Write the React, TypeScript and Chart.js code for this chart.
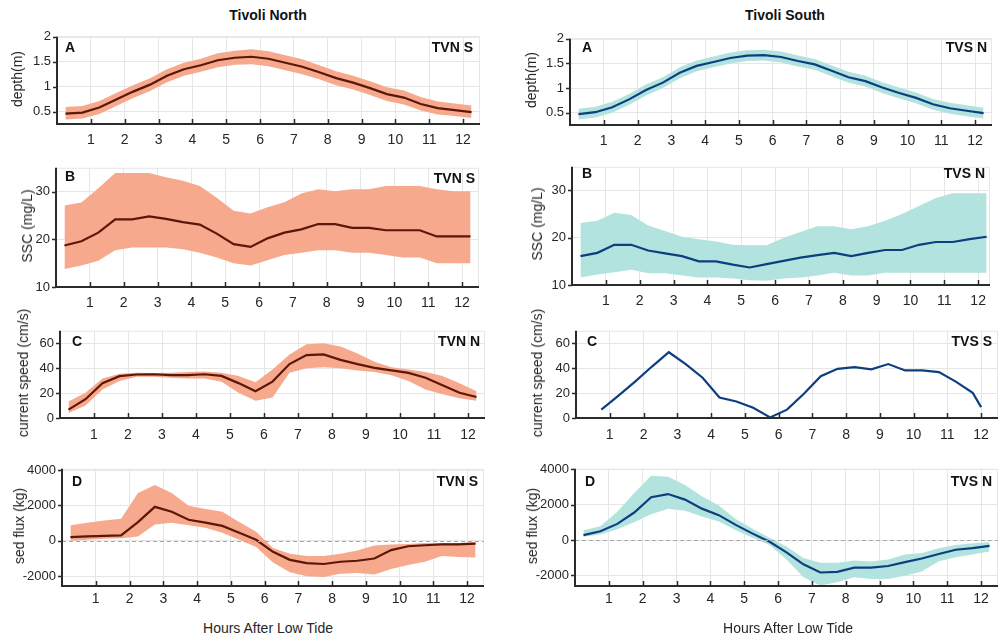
import React, { useEffect, useRef } from "react";
import { Chart, registerables } from "chart.js";
Chart.register(...registerables);

const FONT = "'Liberation Sans', Arial, Helvetica, sans-serif";
Chart.defaults.font.family = FONT;

// ---------- data ----------
const hours = [0.25, 0.75, 1.25, 1.75, 2.25, 2.75, 3.25, 3.75, 4.25, 4.75, 5.25, 5.75, 6.25, 6.75, 7.25, 7.75, 8.25, 8.75, 9.25, 9.75, 10.25, 10.75, 11.25, 11.75, 12.25];
const hoursSpeedS = [0.75, 1.25, 1.75, 2.25, 2.75, 3.25, 3.75, 4.25, 4.75, 5.25, 5.75, 6.25, 6.75, 7.25, 7.75, 8.25, 8.75, 9.25, 9.75, 10.25, 10.75, 11.25, 11.75, 12.0];
const hourTicks = [1, 2, 3, 4, 5, 6, 7, 8, 9, 10, 11, 12];

const depthTicks = [0.5, 1, 1.5, 2];
const sscTicks = [10, 20, 30];
const speedTicks = [0, 20, 40, 60];
const fluxTicks = [-2000, 0, 2000, 4000];

// Tivoli North
const depthN = [0.46, 0.48, 0.58, 0.74, 0.90, 1.04, 1.22, 1.35, 1.43, 1.53, 1.58, 1.60, 1.56, 1.48, 1.40, 1.29, 1.17, 1.08, 0.97, 0.85, 0.78, 0.65, 0.57, 0.53, 0.49];
const depthNHi = [0.59, 0.61, 0.71, 0.87, 1.03, 1.17, 1.35, 1.48, 1.56, 1.67, 1.72, 1.75, 1.71, 1.63, 1.55, 1.43, 1.31, 1.22, 1.11, 0.99, 0.92, 0.79, 0.70, 0.66, 0.62];
const depthNLo = [0.34, 0.36, 0.45, 0.61, 0.77, 0.91, 1.09, 1.22, 1.30, 1.39, 1.44, 1.45, 1.41, 1.33, 1.25, 1.15, 1.03, 0.94, 0.83, 0.71, 0.64, 0.52, 0.44, 0.41, 0.37];

const sscN = [18.7, 19.6, 21.4, 24.2, 24.2, 24.8, 24.3, 23.6, 23.1, 21.2, 19.0, 18.4, 20.2, 21.4, 22.1, 23.2, 23.2, 22.4, 22.4, 21.9, 21.9, 21.9, 20.6, 20.6, 20.6];
const sscNHi = [27.1, 27.7, 30.7, 33.9, 33.9, 33.9, 33.0, 32.3, 31.2, 28.7, 26.0, 25.4, 26.7, 27.8, 29.6, 30.5, 30.1, 30.5, 30.5, 31.2, 31.2, 31.2, 30.5, 30.1, 30.1];
const sscNLo = [13.8, 14.5, 15.5, 17.7, 18.3, 18.3, 18.3, 17.9, 17.2, 16.2, 15.0, 14.5, 15.6, 16.7, 17.2, 17.7, 17.7, 17.2, 17.2, 16.7, 16.2, 16.2, 15.0, 15.0, 15.0];

const speedN = [6.7, 15.1, 28.0, 33.6, 34.9, 35.1, 34.4, 34.4, 35.1, 33.8, 28.0, 21.5, 29.2, 43.3, 50.5, 51.0, 46.7, 43.3, 40.3, 38.2, 36.2, 32.3, 26.2, 20.3, 16.9];
const speedNHi = [13.3, 20.3, 31.8, 35.6, 36.4, 36.2, 36.4, 36.9, 37.4, 36.4, 33.8, 28.7, 39.0, 51.0, 59.2, 60.0, 57.4, 51.8, 45.1, 40.8, 39.0, 36.9, 33.8, 27.9, 21.5];
const speedNLo = [4.1, 10.0, 22.8, 29.7, 33.1, 33.1, 32.3, 31.8, 31.8, 29.2, 20.3, 13.8, 16.4, 36.4, 40.0, 40.8, 40.0, 38.2, 36.9, 34.4, 29.7, 22.8, 19.0, 15.9, 13.8];

const fluxN = [200, 250, 270, 300, 1058, 1918, 1644, 1186, 1022, 840, 457, 55, -626, -1081, -1261, -1315, -1188, -1133, -1006, -531, -311, -256, -201, -201, -164];
const fluxNHi = [877, 1022, 1150, 1241, 2704, 3159, 2704, 1973, 1790, 1644, 1058, 511, -408, -733, -861, -861, -733, -548, -273, -219, -183, -128, -128, -128, -73];
const fluxNLo = [0, 55, 110, 146, 237, 912, 1022, 877, 731, 457, 55, -351, -1225, -1776, -2012, -2048, -1864, -1830, -1904, -1593, -1370, -1188, -861, -916, -952];

// Tivoli South
const depthS = [0.47, 0.51, 0.61, 0.77, 0.96, 1.11, 1.31, 1.45, 1.53, 1.61, 1.66, 1.67, 1.63, 1.55, 1.48, 1.35, 1.22, 1.14, 1.01, 0.90, 0.80, 0.67, 0.59, 0.54, 0.49];
const depthSHi = [0.58, 0.62, 0.72, 0.88, 1.07, 1.22, 1.42, 1.56, 1.64, 1.72, 1.77, 1.78, 1.74, 1.66, 1.59, 1.46, 1.33, 1.25, 1.12, 1.01, 0.91, 0.78, 0.70, 0.65, 0.60];
const depthSLo = [0.36, 0.40, 0.50, 0.66, 0.85, 1.00, 1.20, 1.34, 1.42, 1.50, 1.55, 1.56, 1.52, 1.44, 1.37, 1.24, 1.11, 1.03, 0.90, 0.79, 0.69, 0.56, 0.48, 0.43, 0.38];

const sscS = [16.1, 16.8, 18.5, 18.5, 17.3, 16.7, 16.1, 15.0, 15.0, 14.3, 13.7, 14.4, 15.1, 15.8, 16.3, 16.8, 16.1, 16.8, 17.4, 17.4, 18.5, 19.1, 19.1, 19.7, 20.2];
const sscSHi = [23.1, 23.6, 25.3, 24.8, 22.6, 21.4, 20.2, 19.7, 19.2, 18.5, 18.4, 18.4, 20.0, 21.2, 22.4, 22.4, 21.8, 22.4, 23.6, 25.0, 26.7, 28.4, 29.4, 29.4, 29.4];
const sscSLo = [11.6, 12.2, 12.7, 13.2, 12.5, 12.5, 12.0, 11.6, 11.6, 11.4, 11.0, 10.9, 11.4, 11.6, 12.0, 12.6, 12.0, 12.0, 12.6, 12.6, 12.6, 12.6, 12.6, 12.6, 12.6];

const speedS = [6.7, 17.7, 29.2, 41.3, 52.8, 43.3, 32.3, 16.4, 13.3, 8.2, 0.5, 6.7, 19.5, 33.6, 39.5, 40.8, 39.0, 43.3, 38.2, 38.2, 36.9, 29.2, 20.3, 8.7];

const fluxS = [275, 495, 913, 1557, 2420, 2600, 2288, 1777, 1408, 858, 363, -94, -698, -1375, -1837, -1798, -1562, -1562, -1469, -1249, -1045, -792, -550, -462, -330];
const fluxSHi = [550, 787, 1595, 2657, 3630, 3575, 3113, 2475, 1958, 1188, 638, 127, -367, -1012, -1287, -1287, -1155, -1210, -1100, -825, -737, -462, -275, -187, -132];
const fluxSLo = [182, 308, 605, 1007, 1463, 1777, 1650, 1337, 1045, 550, 127, -275, -1100, -2112, -2569, -2387, -2112, -2200, -2200, -2018, -1782, -1194, -974, -825, -644];

// ---------- styles ----------
const SALMON = "#F6A98D";
const BROWN = "#5B1708";
const TEAL = "#B3E3DE";
const NAVY = "#0D3F7F";
const GRID = "#e6e6e6";
const AXIS = "#2b2b2b";
const TEXT = "#262626";

type Panel = {
  key: string;
  L: number; T: number; R: number; B: number;
  labelX: number;
  xMax: number;
  yMin: number; yMax: number;
  yTicks: number[];
  yTitle: string;
  xPad: number;
  x: number[];
  mid: number[];
  hi?: number[];
  lo?: number[];
  fill: string;
  line: string;
  letter: string; letterX: number; letterY: number;
  tag: string; tagR: number; tagY: number;
  zero?: boolean;
};

const panels: Panel[] = [
  { key: "nA", L: 57, T: 33, R: 480, B: 124, labelX: 17, xMax: 12.5, yMin: 0.25, yMax: 2, yTicks: depthTicks, yTitle: "depth(m)", xPad: 8,
    x: hours, mid: depthN, hi: depthNHi, lo: depthNLo, fill: SALMON, line: BROWN, letter: "A", letterX: 65, letterY: 48, tag: "TVN S", tagR: 473, tagY: 48 },
  { key: "nB", L: 56, T: 164, R: 479, B: 287, labelX: 27, xMax: 12.5, yMin: 10, yMax: 35, yTicks: sscTicks, yTitle: "SSC (mg/L)", xPad: 8,
    x: hours, mid: sscN, hi: sscNHi, lo: sscNLo, fill: SALMON, line: BROWN, letter: "B", letterX: 65, letterY: 177, tag: "TVN S", tagR: 475, tagY: 179 },
  { key: "nC", L: 60, T: 327, R: 485, B: 418, labelX: 23, xMax: 12.5, yMin: 0, yMax: 70, yTicks: speedTicks, yTitle: "current speed (cm/s)", xPad: 9,
    x: hours, mid: speedN, hi: speedNHi, lo: speedNLo, fill: SALMON, line: BROWN, letter: "C", letterX: 72, letterY: 342, tag: "TVN N", tagR: 480, tagY: 342 },
  { key: "nD", L: 62, T: 465, R: 484, B: 586, labelX: 19, xMax: 12.5, yMin: -2560, yMax: 4070, yTicks: fluxTicks, yTitle: "sed flux (kg)", xPad: 5,
    x: hours, mid: fluxN, hi: fluxNHi, lo: fluxNLo, fill: SALMON, line: BROWN, letter: "D", letterX: 72, letterY: 482, tag: "TVN S", tagR: 478, tagY: 482, zero: true },
  { key: "sA", L: 570, T: 35, R: 992, B: 125, labelX: 531, xMax: 12.5, yMin: 0.25, yMax: 2, yTicks: depthTicks, yTitle: "depth(m)", xPad: 8,
    x: hours, mid: depthS, hi: depthSHi, lo: depthSLo, fill: TEAL, line: NAVY, letter: "A", letterX: 582, letterY: 48, tag: "TVS N", tagR: 987, tagY: 48 },
  { key: "sB", L: 572, T: 163, R: 990, B: 285, labelX: 537, xMax: 12.35, yMin: 10, yMax: 35, yTicks: sscTicks, yTitle: "SSC (mg/L)", xPad: 8,
    x: hours, mid: sscS, hi: sscSHi, lo: sscSLo, fill: TEAL, line: NAVY, letter: "B", letterX: 582, letterY: 174, tag: "TVS N", tagR: 985, tagY: 174 },
  { key: "sC", L: 576, T: 327, R: 998, B: 418, labelX: 537, xMax: 12.5, yMin: 0, yMax: 70, yTicks: speedTicks, yTitle: "current speed (cm/s)", xPad: 9,
    x: hoursSpeedS, mid: speedS, fill: TEAL, line: NAVY, letter: "C", letterX: 587, letterY: 342, tag: "TVS S", tagR: 992, tagY: 342 },
  { key: "sD", L: 575, T: 465, R: 998, B: 586, labelX: 532, xMax: 12.5, yMin: -2600, yMax: 4030, yTicks: fluxTicks, yTitle: "sed flux (kg)", xPad: 5,
    x: hours, mid: fluxS, hi: fluxSHi, lo: fluxSLo, fill: TEAL, line: NAVY, letter: "D", letterX: 585, letterY: 482, tag: "TVS N", tagR: 992, tagY: 482, zero: true },
];

const PAD_TOP = 10;
const PAD_RIGHT = 6;
const X_H = 30;
const Y_W = 50;

function pts(xs: number[], ys: number[]) {
  return xs.map((x, i) => ({ x, y: ys[i] }));
}

function PanelChart({ p }: { p: Panel }) {
  const ref = useRef<HTMLCanvasElement | null>(null);
  const cL = p.L - Y_W;
  const cT = p.T - PAD_TOP;
  const cW = Math.round(p.R + PAD_RIGHT - cL);
  const cH = Math.round(p.B + X_H - cT);

  useEffect(() => {
    if (!ref.current) return;
    const datasets: any[] = [];
    if (p.hi && p.lo) {
      datasets.push({ data: pts(p.x, p.lo), order: 1, borderWidth: 0, pointRadius: 0, fill: false, backgroundColor: "rgba(0,0,0,0)", borderColor: "rgba(0,0,0,0)" });
      datasets.push({ data: pts(p.x, p.hi), order: 1, borderWidth: 0, pointRadius: 0, fill: "-1", backgroundColor: p.fill, borderColor: "rgba(0,0,0,0)" });
    }
    datasets.push({ data: pts(p.x, p.mid), order: 0, borderWidth: 2.2, pointRadius: 0, fill: false, borderColor: p.line, tension: 0 });

    const decor = {
      id: "decor" + p.key,
      afterDatasetsDraw(chart: any) {
        const { ctx, chartArea: a, scales } = chart;
        const xs = scales.x;
        const ys = scales.y;
        ctx.save();
        ctx.strokeStyle = GRID;
        ctx.lineWidth = 1;
        ctx.beginPath();
        ctx.moveTo(a.left, a.top + 0.5);
        ctx.lineTo(a.right - 0.5, a.top + 0.5);
        ctx.lineTo(a.right - 0.5, a.bottom);
        ctx.stroke();
        if (p.zero) {
          const y0 = Math.round(ys.getPixelForValue(0)) + 0.5;
          ctx.strokeStyle = "#a8a8a8";
          ctx.setLineDash([4, 3]);
          ctx.beginPath();
          ctx.moveTo(a.left, y0);
          ctx.lineTo(a.right, y0);
          ctx.stroke();
          ctx.setLineDash([]);
        }
        ctx.strokeStyle = AXIS;
        ctx.lineWidth = 2;
        ctx.beginPath();
        ctx.moveTo(a.left, a.top);
        ctx.lineTo(a.left, a.bottom);
        ctx.lineTo(a.right, a.bottom);
        ctx.stroke();
        ctx.lineWidth = 1.5;
        ctx.beginPath();
        xs.ticks.forEach((t: any) => {
          const x = Math.round(xs.getPixelForValue(t.value)) + 0.5;
          ctx.moveTo(x, a.bottom);
          ctx.lineTo(x, a.bottom - 5);
        });
        ys.ticks.forEach((t: any) => {
          const y = Math.round(ys.getPixelForValue(t.value)) + 0.5;
          ctx.moveTo(a.left - 4, y);
          ctx.lineTo(a.left, y);
        });
        ctx.stroke();
        ctx.fillStyle = "#111";
        ctx.font = `bold 14px ${FONT}`;
        ctx.textBaseline = "middle";
        ctx.textAlign = "left";
        ctx.fillText(p.letter, p.letterX - cL, p.letterY - cT);
        ctx.textAlign = "right";
        ctx.fillText(p.tag, p.tagR - cL, p.tagY - cT);
        ctx.restore();
      },
    };

    const chart = new Chart(ref.current, {
      type: "line",
      data: { datasets },
      options: {
        animation: false,
        responsive: false,
        maintainAspectRatio: false,
        devicePixelRatio: 1,
        layout: { padding: { left: 0, top: PAD_TOP, right: PAD_RIGHT, bottom: 0 } },
        plugins: { legend: { display: false }, tooltip: { enabled: false }, title: { display: false } },
        scales: {
          x: {
            type: "linear",
            min: 0,
            max: p.xMax,
            afterBuildTicks: (s: any) => { s.ticks = hourTicks.map((v) => ({ value: v })); },
            afterFit: (s: any) => { s.height = X_H; },
            grid: { color: GRID, drawTicks: false, lineWidth: 1 },
            border: { display: false },
            ticks: { padding: p.xPad, autoSkip: false, maxRotation: 0, color: TEXT, font: { size: 14, family: FONT }, callback: (v: any) => String(v) },
          },
          y: {
            type: "linear",
            min: p.yMin,
            max: p.yMax,
            afterBuildTicks: (s: any) => { s.ticks = p.yTicks.map((v) => ({ value: v })); },
            afterFit: (s: any) => { s.width = Y_W; },
            grid: { color: GRID, drawTicks: false, lineWidth: 1 },
            border: { display: false },
            ticks: { padding: 6, color: TEXT, font: { size: 13, family: FONT }, callback: (v: any) => String(v) },
          },
        },
      },
      plugins: [decor],
    } as any);
    return () => chart.destroy();
  }, []);

  return (
    <>
      <canvas
        ref={ref}
        width={cW}
        height={cH}
        style={{ position: "absolute", left: cL, top: cT, width: cW, height: cH }}
      />
      <div
        style={{
          position: "absolute",
          left: p.labelX,
          top: (p.T + p.B) / 2,
          transform: "translate(-50%, -50%) rotate(-90deg)",
          whiteSpace: "nowrap",
          fontFamily: FONT,
          fontSize: 14,
          lineHeight: 1,
          color: TEXT,
        }}
      >
        {p.yTitle}
      </div>
    </>
  );
}

const label = (text: string, cx: number, cy: number, bold: boolean) => (
  <div
    style={{
      position: "absolute",
      left: cx,
      top: cy,
      transform: "translate(-50%, -50%)",
      whiteSpace: "nowrap",
      fontFamily: FONT,
      fontSize: 14,
      fontWeight: bold ? 700 : 400,
      lineHeight: 1,
      color: bold ? "#111" : TEXT,
    }}
  >
    {text}
  </div>
);

export default function App() {
  return (
    <div style={{ position: "absolute", left: 0, top: 0, width: 1000, height: 639, overflow: "hidden", background: "#fff" }}>
      {label("Tivoli North", 268, 15, true)}
      {label("Tivoli South", 785, 15, true)}
      {panels.map((p) => (
        <PanelChart key={p.key} p={p} />
      ))}
      {label("Hours After Low Tide", 268, 628, false)}
      {label("Hours After Low Tide", 788, 628, false)}
    </div>
  );
}
